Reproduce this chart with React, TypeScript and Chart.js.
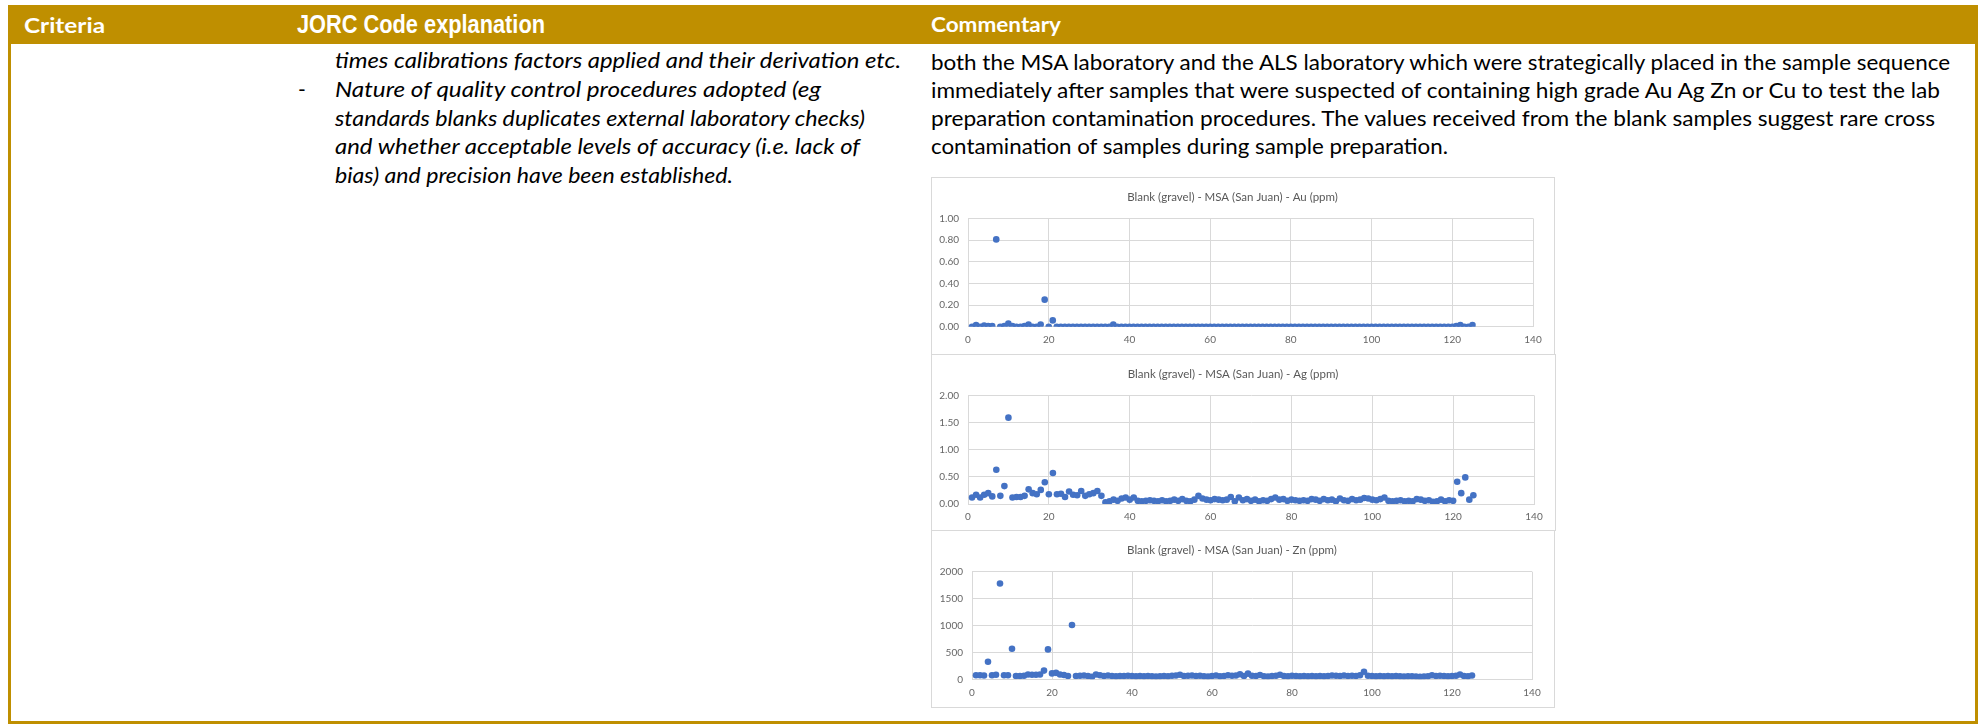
import React, { useEffect, useRef } from "react";
import { Chart, registerables } from "chart.js";

Chart.register(...registerables);

// ---------- text content ----------
const headerLabels = ["Criteria", "JORC Code explanation", "Commentary"];
const jorcLines = [
  "times calibrations factors applied and their derivation etc.",
  "Nature of quality control procedures adopted (eg",
  "standards blanks duplicates external laboratory checks)",
  "and whether acceptable levels of accuracy (i.e. lack of",
  "bias) and precision have been established.",
];
const commentaryLines = [
  "both the MSA laboratory and the ALS laboratory which were strategically placed in the sample sequence",
  "immediately after samples that were suspected of containing high grade Au Ag Zn or Cu to test the lab",
  "preparation contamination procedures. The values received from the blank samples suggest rare cross",
  "contamination of samples during sample preparation.",
];

// ---------- chart data ----------
const chartTitles = [
  "Blank (gravel) - MSA (San Juan) - Au (ppm)",
  "Blank (gravel) - MSA (San Juan) - Ag (ppm)",
  "Blank (gravel) - MSA (San Juan) - Zn (ppm)",
];
const xTickValues = [0, 20, 40, 60, 80, 100, 120, 140];
const auTicks = [0, 0.2, 0.4, 0.6, 0.8, 1.0];
const agTicks = [0, 0.5, 1.0, 1.5, 2.0];
const znTicks = [0, 500, 1000, 1500, 2000];

// sample 1..125
const auValues = [
  0, 0.015, 0, 0.01, 0.005, 0.005, 0.806, 0, 0.005, 0.03,
  0.005, 0, 0, 0.005, 0.02, 0, 0, 0.02, 0.25, 0,
  0.058, 0, 0, 0, 0, 0, 0, 0, 0, 0,
  0, 0, 0, 0, 0, 0.02, 0, 0, 0, 0,
  0, 0, 0, 0, 0, 0, 0, 0, 0, 0,
  0, 0, 0, 0, 0, 0, 0, 0, 0, 0,
  0, 0, 0, 0, 0, 0, 0, 0, 0, 0,
  0, 0, 0, 0, 0, 0, 0, 0, 0, 0,
  0, 0, 0, 0, 0, 0, 0, 0, 0, 0,
  0, 0, 0, 0, 0, 0, 0, 0, 0, 0,
  0, 0, 0, 0, 0, 0, 0, 0, 0, 0,
  0, 0, 0, 0, 0, 0, 0, 0, 0, 0,
  0.005, 0.015, 0, 0, 0.015,
];
const agValues = [
  0.12, 0.17, 0.12, 0.17, 0.2, 0.14, 0.63, 0.15, 0.33, 1.59,
  0.12, 0.13, 0.13, 0.15, 0.27, 0.2, 0.18, 0.26, 0.4, 0.18,
  0.57, 0.18, 0.19, 0.13, 0.23, 0.17, 0.16, 0.24, 0.15, 0.18,
  0.2, 0.24, 0.15, 0.03, 0.05, 0.08, 0.06, 0.1, 0.12, 0.08,
  0.12, 0.06, 0.05, 0.06, 0.07, 0.06, 0.05, 0.07, 0.05, 0.06,
  0.08, 0.06, 0.09, 0.06, 0.05, 0.08, 0.15, 0.1, 0.08, 0.07,
  0.09, 0.08, 0.07, 0.08, 0.13, 0.05, 0.12, 0.07, 0.09, 0.06,
  0.08, 0.05, 0.07, 0.06, 0.09, 0.12, 0.08, 0.09, 0.06, 0.08,
  0.07, 0.06, 0.07, 0.06, 0.09, 0.08, 0.06, 0.09, 0.07, 0.08,
  0.05, 0.1, 0.07, 0.06, 0.09, 0.07, 0.08, 0.11, 0.1, 0.08,
  0.07, 0.09, 0.12, 0.06, 0.05, 0.06, 0.07, 0.05, 0.06, 0.05,
  0.09, 0.08, 0.06, 0.07, 0.04, 0.05, 0.08, 0.05, 0.07, 0.06,
  0.41, 0.2, 0.49, 0.08, 0.16,
];
const znValues = [
  75, 75, 70, 325, 75, 85, 1780, 75, 75, 569,
  60, 60, 65, 90, 85, 85, 90, 162, 556, 110,
  120, 90, 80, 60, 1010, 60, 65, 70, 60, 45,
  90, 75, 60, 70, 60, 55, 60, 60, 65, 60,
  55, 60, 55, 60, 55, 50, 55, 60, 55, 65,
  70, 85, 60, 65, 70, 60, 65, 55, 50, 60,
  70, 55, 60, 75, 65, 70, 95, 60, 105, 65,
  60, 80, 55, 50, 60, 65, 85, 60, 55, 65,
  60, 55, 60, 55, 60, 55, 60, 55, 60, 70,
  65, 60, 70, 60, 65, 60, 75, 140, 65, 60,
  55, 60, 55, 60, 55, 60, 55, 50, 55, 55,
  50, 45, 50, 55, 75, 60, 65, 60, 55, 60,
  65, 90, 60, 55, 70,
];

const GOLD = "#BF8F00";
const FONT = "Lato";

type Box = { x: number; y: number; w: number; h: number };
type Plot = { left: number; right: number; top: number; bottom: number };

function ScatterBox(props: {
  box: Box;
  plot: Plot;
  title: string;
  values: number[];
  yTicks: number[];
  decimals: number;
}) {
  const { box, plot, title, values, yTicks, decimals } = props;
  const ref = useRef<HTMLCanvasElement | null>(null);
  const cw = box.w - 2;
  const ch = box.h - 2;
  useEffect(() => {
    const titleSize = 11.5;
    const titleTop = 12;
    const chart = new Chart(ref.current as HTMLCanvasElement, {
      type: "scatter",
      data: {
        datasets: [
          {
            data: values.map((v, i) => ({ x: i + 1, y: v })),
            backgroundColor: "#4472C4",
            borderColor: "#4472C4",
            pointRadius: 3.3,
            pointHoverRadius: 3.3,
            pointBorderWidth: 0,
          },
        ],
      },
      options: {
        responsive: false,
        maintainAspectRatio: false,
        animation: false,
        devicePixelRatio: 1,
        layout: { padding: { left: 0, top: 0, bottom: 0, right: cw - plot.right } },
        plugins: {
          legend: { display: false },
          tooltip: { enabled: false },
          title: {
            display: true,
            text: title,
            color: "#595959",
            font: { family: FONT, size: titleSize, weight: "normal", lineHeight: 1.2 },
            padding: { top: titleTop, bottom: plot.top - titleTop - titleSize * 1.2 },
          },
        },
        scales: {
          x: {
            type: "linear",
            min: xTickValues[0],
            max: xTickValues[xTickValues.length - 1],
            afterBuildTicks: (s: any) => {
              s.ticks = xTickValues.map((value) => ({ value }));
            },
            ticks: { color: "#666666", font: { family: FONT, size: 10 }, padding: 7 },
            grid: { color: "#d9d9d9", drawTicks: false },
            border: { color: "#d9d9d9" },
            afterFit: (s: any) => {
              s.height = ch - plot.bottom;
            },
          },
          y: {
            type: "linear",
            min: yTicks[0],
            max: yTicks[yTicks.length - 1],
            afterBuildTicks: (s: any) => {
              s.ticks = yTicks.map((value) => ({ value }));
            },
            ticks: {
              color: "#666666",
              font: { family: FONT, size: 10 },
              padding: 9,
              callback: (v: any) => Number(v).toFixed(decimals),
            },
            grid: { color: "#d9d9d9", drawTicks: false },
            border: { color: "#d9d9d9" },
            afterFit: (s: any) => {
              s.width = plot.left;
            },
          },
        },
      } as any,
    });
    return () => chart.destroy();
  }, []);
  return (
    <div
      style={{
        position: "absolute",
        left: box.x,
        top: box.y,
        width: box.w,
        height: box.h,
        border: "1px solid #d9d9d9",
        boxSizing: "border-box",
        background: "#fff",
      }}
    >
      <canvas ref={ref} width={cw} height={ch} style={{ display: "block" }} />
    </div>
  );
}

type TextItem = {
  text: string;
  x: number;
  y: number;
  w: number;
  size: number;
  family: string;
  weight?: number;
  italic?: boolean;
  fill: string;
};

export default function App() {
  const items: TextItem[] = [
    { text: headerLabels[0], x: 24, y: 33.3, w: 81, size: 21, family: FONT, weight: 700, fill: "#fff" },
    { text: headerLabels[1], x: 297, y: 33.3, w: 248, size: 25, family: "Liberation Sans", weight: 700, fill: "#fff" },
    { text: headerLabels[2], x: 931, y: 32, w: 130, size: 20, family: FONT, weight: 700, fill: "#fff" },
  ];
  const jorcBase = [68, 97, 125.5, 154, 182.5];
  const jorcW = [566, 486, 530, 525, 398];
  jorcLines.forEach((t, i) =>
    items.push({ text: t, x: 335, y: jorcBase[i], w: jorcW[i], size: 21, family: FONT, italic: true, fill: "#000" })
  );
  const comBase = [69.5, 97.5, 125.5, 153.5];
  const comW = [1019, 1009, 1004, 517];
  commentaryLines.forEach((t, i) =>
    items.push({ text: t, x: 931, y: comBase[i], w: comW[i], size: 21, family: FONT, fill: "#000" })
  );

  return (
    <div
      style={{
        position: "absolute",
        left: 0,
        top: 0,
        width: 1986,
        height: 724,
        background: "#fff",
        overflow: "hidden",
      }}
    >
      <svg width={1986} height={724} style={{ position: "absolute", left: 0, top: 0 }}>
        <rect x={8} y={5} width={1970} height={39} fill={GOLD} />
        <rect x={8} y={44} width={3} height={680} fill={GOLD} />
        <rect x={1975} y={44} width={3} height={680} fill={GOLD} />
        <rect x={8} y={721} width={1970} height={3} fill={GOLD} />
        {items.map((it, i) => (
          <text
            key={i}
            x={it.x}
            y={it.y}
            fontFamily={it.family}
            fontSize={it.size}
            fontWeight={it.weight || 400}
            fontStyle={it.italic ? "italic" : "normal"}
            fill={it.fill}
            textLength={it.w}
            lengthAdjust="spacingAndGlyphs"
          >
            {it.text}
          </text>
        ))}
        <text x={298} y={97} fontFamily={FONT} fontSize={21} fill="#000">
          -
        </text>
      </svg>
      <ScatterBox
        box={{ x: 931, y: 177, w: 624, h: 178 }}
        plot={{ left: 36, right: 601, top: 40.4, bottom: 148.7 }}
        title={chartTitles[0]}
        values={auValues}
        yTicks={auTicks}
        decimals={2}
      />
      <ScatterBox
        box={{ x: 931, y: 354, w: 625, h: 177 }}
        plot={{ left: 36, right: 602, top: 40.4, bottom: 149 }}
        title={chartTitles[1]}
        values={agValues}
        yTicks={agTicks}
        decimals={2}
      />
      <ScatterBox
        box={{ x: 931, y: 530, w: 624, h: 178 }}
        plot={{ left: 40, right: 600, top: 40.7, bottom: 148.3 }}
        title={chartTitles[2]}
        values={znValues}
        yTicks={znTicks}
        decimals={0}
      />
    </div>
  );
}
